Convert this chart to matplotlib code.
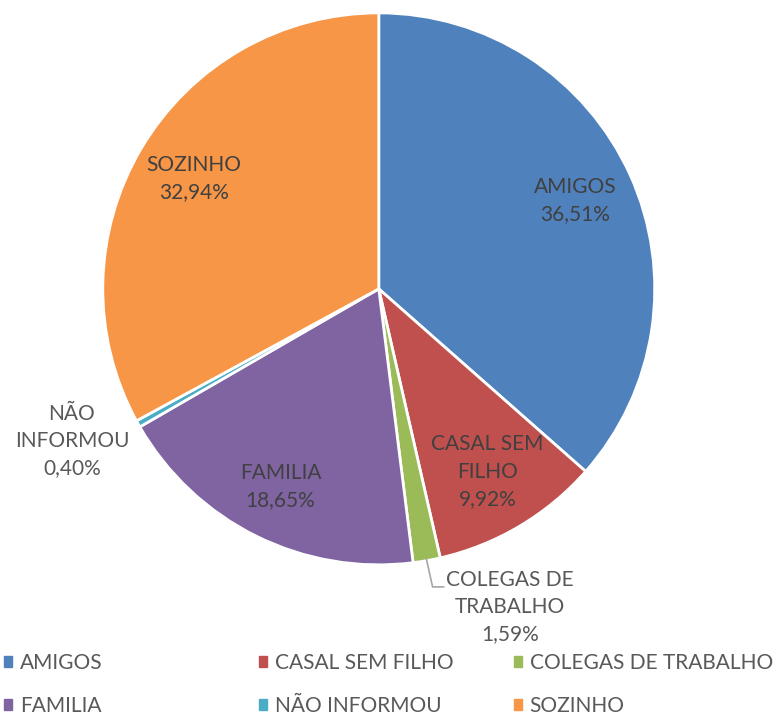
import numpy as np
import matplotlib.pyplot as plt
from matplotlib.patches import Patch

plt.rcParams['font.family'] = ['Lato', 'DejaVu Sans']

categories = ["AMIGOS", "CASAL SEM FILHO", "COLEGAS DE TRABALHO",
              "FAMILIA", "NÃO INFORMOU", "SOZINHO"]
values = [36.51, 9.92, 1.59, 18.65, 0.40, 32.94]
label_text = ["AMIGOS", "CASAL SEM\nFILHO", "COLEGAS DE\nTRABALHO",
              "FAMILIA", "NÃO\nINFORMOU", "SOZINHO"]
colors = ["#4F81BD", "#C0504D", "#9BBB59", "#8064A2", "#4BACC6", "#F79646"]

fig = plt.figure(figsize=(7.73, 7.15), dpi=100)
ax = fig.add_axes([0.133, 0.210, 0.714, 0.772])

wedges, _ = ax.pie(values, colors=colors, startangle=90, counterclock=False,
                   radius=1.0, wedgeprops=dict(edgecolor="white", linewidth=2))
ax.set_xlim(-1, 1)
ax.set_ylim(-1, 1)
ax.set_aspect("equal")
ax.axis("off")

# label placement: distance from centre for inside labels
label_dist = [0.78, 0.77, None, 0.80, None, 0.78]
outside_pos = {2: (0.475, -1.152), 4: (-1.112, -0.551)}
fs = 15

for i, w in enumerate(wedges):
    pct = f"{values[i]:.2f}%".replace(".", ",")
    txt = label_text[i] + "\n" + pct
    if i in outside_pos:
        x, y = outside_pos[i]
        ax.text(x, y, txt, ha="center", va="center", fontsize=fs,
                color="#595959", linespacing=1.45, clip_on=False)
    else:
        mid = np.deg2rad((w.theta1 + w.theta2) / 2)
        r = label_dist[i]
        ax.text(r * np.cos(mid), r * np.sin(mid), txt, ha="center", va="center",
                fontsize=fs, color="#404040", linespacing=1.45)

# leader line for COLEGAS DE TRABALHO
w = wedges[2]
mid = np.deg2rad((w.theta1 + w.theta2) / 2)
x0, y0 = np.cos(mid) * 0.995, np.sin(mid) * 0.995
ax.plot([x0, 0.195, 0.235], [y0, -1.08, -1.08], color="#A6A6A6",
        linewidth=1.2, clip_on=False)

# legend: three columns filled row by row
col_x = [4, 259, 514]
for c in range(3):
    idx = [c, c + 3]
    handles = [Patch(facecolor=colors[k], edgecolor=colors[k]) for k in idx]
    fig.legend(handles, [categories[k] for k in idx], loc="upper left",
               bbox_to_anchor=(col_x[c] / 773, 1 - 653 / 715), frameon=False,
               fontsize=fs, labelcolor="#595959", borderpad=0, borderaxespad=0,
               handlelength=0.4, handleheight=0.4, handletextpad=0.35,
               labelspacing=1.1)

fig.savefig("out.png", dpi=100)
